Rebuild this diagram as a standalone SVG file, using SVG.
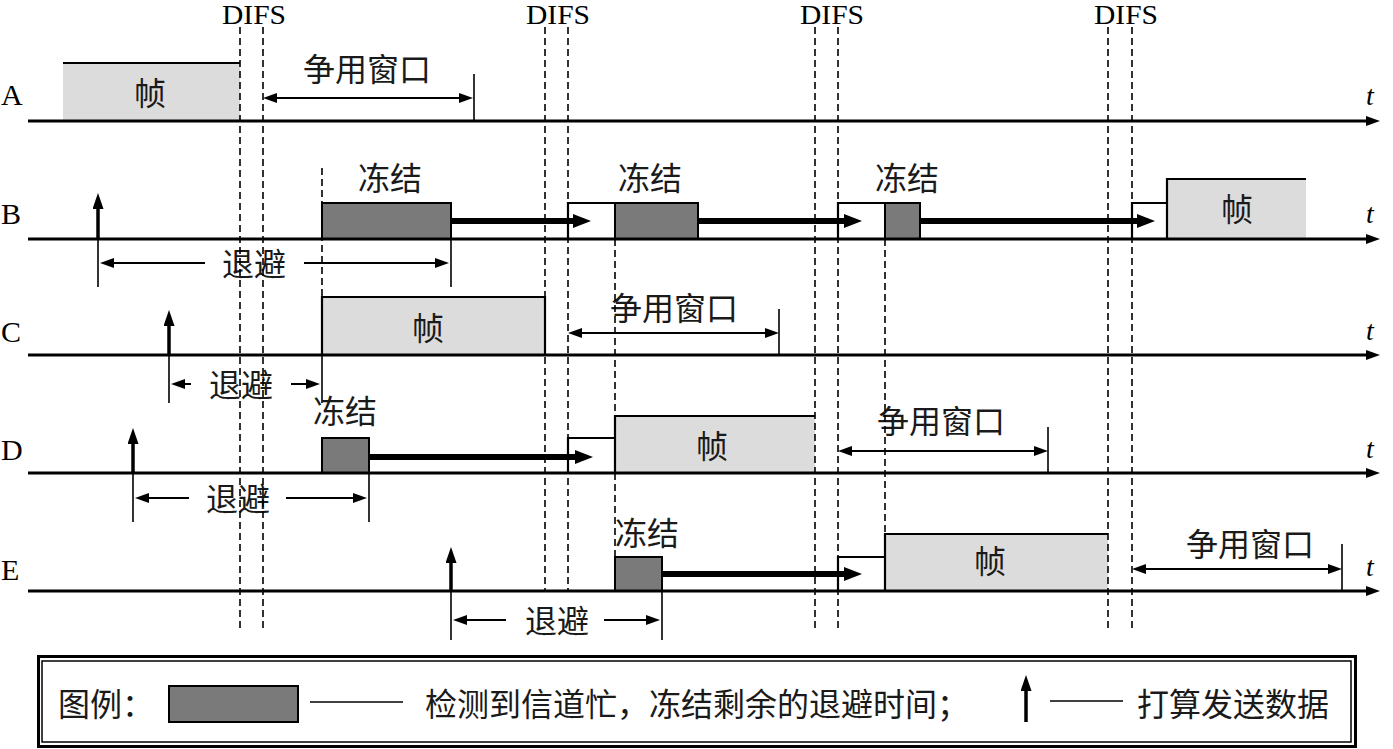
<svg xmlns="http://www.w3.org/2000/svg" width="1393" height="749" viewBox="0 0 1393 749">
<style>
.axis{stroke:#000;stroke-width:3;fill:none}
.dash{stroke:#000;stroke-width:1.6;stroke-dasharray:7 4;fill:none}
.tick{stroke:#000;stroke-width:1.6;fill:none}
.frame{fill:#dcdcdc;stroke:none}
.edge{stroke:#000;stroke-width:2.2;fill:none}
.busy{fill:#7a7a7a;stroke:#000;stroke-width:2}
.thick{stroke:#000;stroke-width:6;fill:none}
.dbl{stroke:#000;stroke-width:2;fill:none}
.up{stroke:#000;stroke-width:3.5;fill:none}
.zh{font-family:"Noto Sans CJK SC",sans-serif;font-size:32px;fill:#1a1a1a;text-anchor:middle}
.lat{font-family:"Liberation Serif",serif;font-size:30px;fill:#000}
.difs{font-family:"Liberation Serif",serif;font-size:27px;fill:#000;text-anchor:middle}
.t{font-family:"Liberation Serif",serif;font-size:28px;font-style:italic;fill:#000}
</style>
<defs>
<marker id="ah" markerUnits="userSpaceOnUse" markerWidth="14" markerHeight="10" refX="0" refY="5" orient="auto"><path d="M0,0 L14,5 L0,10 z" fill="#000"/></marker>
<marker id="sh" markerUnits="userSpaceOnUse" markerWidth="14" markerHeight="10" refX="0" refY="5" orient="auto-start-reverse"><path d="M0,0 L14,5 L0,10 z" fill="#000"/></marker>
<marker id="uh" markerUnits="userSpaceOnUse" markerWidth="16" markerHeight="11" refX="0" refY="5.5" orient="auto"><path d="M0,0 L16,5.5 L0,11 z" fill="#000"/></marker>
<marker id="th" markerUnits="userSpaceOnUse" markerWidth="18" markerHeight="14" refX="0" refY="7" orient="auto"><path d="M0,0 L18,7 L0,14 z" fill="#000"/></marker>
</defs>
<rect width="1393" height="749" fill="#fff"/>

<g id="difs-labels">
<text class="difs" x="254" y="24" textLength="64" lengthAdjust="spacingAndGlyphs">DIFS</text>
<text class="difs" x="558" y="24" textLength="64" lengthAdjust="spacingAndGlyphs">DIFS</text>
<text class="difs" x="832" y="24" textLength="64" lengthAdjust="spacingAndGlyphs">DIFS</text>
<text class="difs" x="1126" y="24" textLength="64" lengthAdjust="spacingAndGlyphs">DIFS</text>
</g>

<g id="rowA">
<rect class="frame" x="63" y="63" width="177" height="58"/>
<path class="edge" d="M63,63 H240"/>
<text class="zh" x="150" y="105">帧</text>
<text class="lat" x="1" y="105">A</text>
<text class="zh" x="367" y="81">争用窗口</text>
<line class="dbl" x1="277" y1="98" x2="459" y2="98" marker-start="url(#sh)" marker-end="url(#sh)"/>
<line class="tick" x1="474" y1="74" x2="474" y2="121"/>
<line class="axis" x1="28" y1="121" x2="1366" y2="121" marker-end="url(#ah)"/>
<text class="t" x="1366" y="105">t</text>
</g>

<g id="rowB">
<text class="lat" x="1" y="224">B</text>
<line class="up" x1="98" y1="239" x2="98" y2="209" marker-end="url(#uh)"/>
<rect class="busy" x="322" y="203" width="129" height="36"/>
<text class="zh" x="390" y="190">冻结</text>
<line class="thick" x1="451" y1="221" x2="573" y2="221" marker-end="url(#th)"/>
<path class="edge" d="M568,239 V203 H615"/>
<rect class="busy" x="615" y="203" width="83" height="36"/>
<text class="zh" x="650" y="190">冻结</text>
<line class="thick" x1="698" y1="221" x2="844" y2="221" marker-end="url(#th)"/>
<path class="edge" d="M838,239 V203 H885"/>
<rect class="busy" x="885" y="203" width="35" height="36"/>
<text class="zh" x="907" y="190">冻结</text>
<line class="thick" x1="920" y1="221" x2="1137" y2="221" marker-end="url(#th)"/>
<path class="edge" d="M1132,239 V203 H1167"/>
<rect class="frame" x="1167" y="179" width="139" height="60"/>
<path class="edge" d="M1167,239 V179 H1306"/>
<text class="zh" x="1237" y="221">帧</text>
<line class="axis" x1="28" y1="239" x2="1366" y2="239" marker-end="url(#ah)"/>
<text class="t" x="1366" y="223">t</text>
<line class="tick" x1="98" y1="239" x2="98" y2="287"/>
<line class="tick" x1="451" y1="239" x2="451" y2="287"/>
<line class="dbl" x1="205" y1="263" x2="114" y2="263" marker-end="url(#sh)"/>
<line class="dbl" x1="304" y1="263" x2="435" y2="263" marker-end="url(#sh)"/>
<text class="zh" x="254" y="276">退避</text>
</g>

<g id="rowC">
<text class="lat" x="1" y="342">C</text>
<line class="up" x1="169" y1="355" x2="169" y2="326" marker-end="url(#uh)"/>
<rect class="frame" x="322" y="297" width="223" height="58"/>
<path class="edge" d="M322,355 V297 H545 V355"/>
<text class="zh" x="428" y="340">帧</text>
<text class="zh" x="674" y="320">争用窗口</text>
<line class="dbl" x1="582" y1="333" x2="765" y2="333" marker-start="url(#sh)" marker-end="url(#sh)"/>
<line class="tick" x1="779" y1="309" x2="779" y2="355"/>
<line class="axis" x1="28" y1="355" x2="1366" y2="355" marker-end="url(#ah)"/>
<text class="t" x="1366" y="340">t</text>
<line class="tick" x1="169" y1="355" x2="169" y2="403"/>
<line class="tick" x1="322" y1="355" x2="322" y2="403"/>
<line class="dbl" x1="191" y1="384" x2="185" y2="384" marker-end="url(#sh)"/>
<line class="dbl" x1="291" y1="384" x2="306" y2="384" marker-end="url(#sh)"/>
<text class="zh" x="241" y="397">退避</text>
</g>

<g id="rowD">
<text class="lat" x="1" y="460">D</text>
<line class="up" x1="133" y1="473" x2="133" y2="444" marker-end="url(#uh)"/>
<rect class="busy" x="322" y="438" width="47" height="35"/>
<text class="zh" x="345" y="423">冻结</text>
<line class="thick" x1="369" y1="457" x2="575" y2="457" marker-end="url(#th)"/>
<path class="edge" d="M568,473 V438 H615"/>
<rect class="frame" x="615" y="416" width="200" height="57"/>
<path class="edge" d="M615,473 V416 H815"/>
<text class="zh" x="712" y="458">帧</text>
<text class="zh" x="941" y="433">争用窗口</text>
<line class="dbl" x1="852" y1="451" x2="1034" y2="451" marker-start="url(#sh)" marker-end="url(#sh)"/>
<line class="tick" x1="1048" y1="427" x2="1048" y2="473"/>
<line class="axis" x1="28" y1="473" x2="1366" y2="473" marker-end="url(#ah)"/>
<text class="t" x="1366" y="458">t</text>
<line class="tick" x1="133" y1="473" x2="133" y2="522"/>
<line class="tick" x1="369" y1="473" x2="369" y2="522"/>
<line class="dbl" x1="189" y1="498" x2="149" y2="498" marker-end="url(#sh)"/>
<line class="dbl" x1="286" y1="498" x2="353" y2="498" marker-end="url(#sh)"/>
<text class="zh" x="238" y="511">退避</text>
</g>

<g id="rowE">
<text class="lat" x="1" y="580">E</text>
<line class="up" x1="451" y1="591" x2="451" y2="563" marker-end="url(#uh)"/>
<rect class="busy" x="615" y="557" width="47" height="34"/>
<text class="zh" x="647" y="545">冻结</text>
<line class="thick" x1="662" y1="574" x2="844" y2="574" marker-end="url(#th)"/>
<path class="edge" d="M838,591 V557 H885"/>
<rect class="frame" x="885" y="534" width="223" height="57"/>
<path class="edge" d="M885,591 V534 H1108"/>
<text class="zh" x="990" y="573">帧</text>
<text class="zh" x="1250" y="556">争用窗口</text>
<line class="dbl" x1="1146" y1="569" x2="1328" y2="569" marker-start="url(#sh)" marker-end="url(#sh)"/>
<line class="tick" x1="1342" y1="544" x2="1342" y2="591"/>
<line class="axis" x1="28" y1="591" x2="1366" y2="591" marker-end="url(#ah)"/>
<text class="t" x="1366" y="576">t</text>
<line class="tick" x1="451" y1="591" x2="451" y2="640"/>
<line class="tick" x1="662" y1="591" x2="662" y2="640"/>
<line class="dbl" x1="506" y1="620" x2="467" y2="620" marker-end="url(#sh)"/>
<line class="dbl" x1="604" y1="620" x2="646" y2="620" marker-end="url(#sh)"/>
<text class="zh" x="557" y="633">退避</text>
</g>

<g id="connectors">
<line class="dash" x1="240" y1="27" x2="240" y2="628"/>
<line class="dash" x1="263" y1="27" x2="263" y2="628"/>
<line class="dash" x1="545" y1="27" x2="545" y2="591"/>
<line class="dash" x1="568" y1="27" x2="568" y2="591"/>
<line class="dash" x1="815" y1="27" x2="815" y2="628"/>
<line class="dash" x1="838" y1="27" x2="838" y2="628"/>
<line class="dash" x1="1108" y1="27" x2="1108" y2="628"/>
<line class="dash" x1="1132" y1="27" x2="1132" y2="628"/>
<line class="dash" x1="322" y1="168" x2="322" y2="297"/>
<line class="dash" x1="615" y1="239" x2="615" y2="416"/>
<line class="dash" x1="615" y1="473" x2="615" y2="557"/>
<line class="dash" x1="885" y1="239" x2="885" y2="534"/>
</g>

<g id="legend">
<rect x="38.5" y="656.5" width="1317" height="90" fill="none" stroke="#000" stroke-width="3"/>
<rect x="42" y="661" width="1309" height="81" fill="none" stroke="#000" stroke-width="1.5"/>
<text class="zh" x="58" y="716" style="text-anchor:start">图例：</text>
<rect class="busy" x="169" y="686" width="129" height="36"/>
<line class="tick" x1="310" y1="702" x2="403" y2="702"/>
<text class="zh" x="425" y="716" style="text-anchor:start">检测到信道忙，冻结剩余的退避时间；</text>
<line class="up" x1="1026" y1="722" x2="1026" y2="691" marker-end="url(#uh)"/>
<line class="tick" x1="1050" y1="701" x2="1123" y2="701"/>
<text class="zh" x="1137" y="716" style="text-anchor:start">打算发送数据</text>
</g>
</svg>
